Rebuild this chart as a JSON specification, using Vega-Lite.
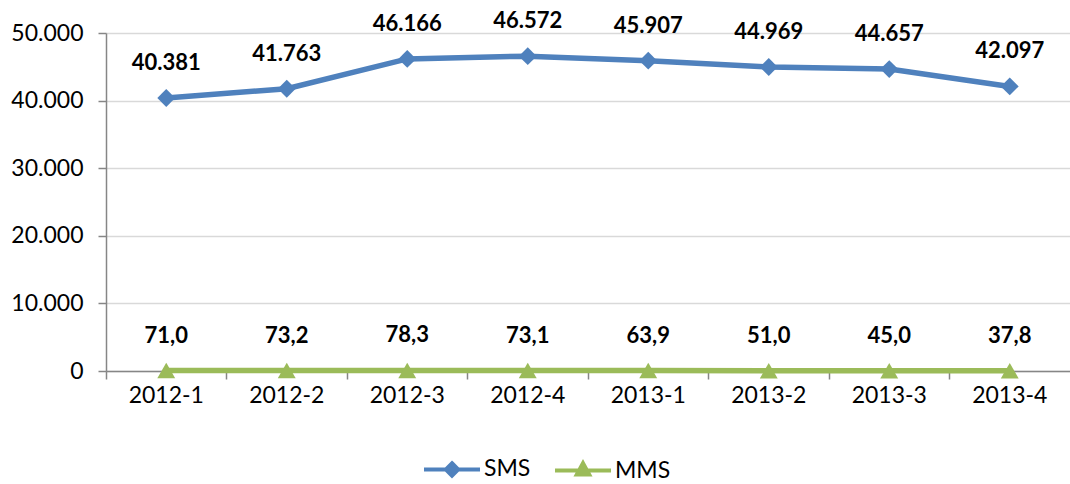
{
  "$schema": "https://vega.github.io/schema/vega-lite/v6.json",
  "width": 964,
  "height": 338,
  "autosize": "none",
  "padding": {"left": 106, "top": 33, "right": 0, "bottom": 113},
  "background": "#ffffff",
  "config": {"font": "Lato", "view": {"stroke": null}},
  "data": {
    "values": [
      {"period": "2012-1", "series": "SMS", "value": 40381, "label": "40.381"},
      {"period": "2012-2", "series": "SMS", "value": 41763, "label": "41.763"},
      {"period": "2012-3", "series": "SMS", "value": 46166, "label": "46.166"},
      {"period": "2012-4", "series": "SMS", "value": 46572, "label": "46.572"},
      {"period": "2013-1", "series": "SMS", "value": 45907, "label": "45.907"},
      {"period": "2013-2", "series": "SMS", "value": 44969, "label": "44.969"},
      {"period": "2013-3", "series": "SMS", "value": 44657, "label": "44.657"},
      {"period": "2013-4", "series": "SMS", "value": 42097, "label": "42.097"},
      {"period": "2012-1", "series": "MMS", "value": 71.0, "label": "71,0"},
      {"period": "2012-2", "series": "MMS", "value": 73.2, "label": "73,2"},
      {"period": "2012-3", "series": "MMS", "value": 78.3, "label": "78,3"},
      {"period": "2012-4", "series": "MMS", "value": 73.1, "label": "73,1"},
      {"period": "2013-1", "series": "MMS", "value": 63.9, "label": "63,9"},
      {"period": "2013-2", "series": "MMS", "value": 51.0, "label": "51,0"},
      {"period": "2013-3", "series": "MMS", "value": 45.0, "label": "45,0"},
      {"period": "2013-4", "series": "MMS", "value": 37.8, "label": "37,8"}
    ]
  },
  "encoding": {
    "x": {
      "field": "period",
      "type": "ordinal",
      "sort": null,
      "bandPosition": 0.5,
      "scale": {"type": "band", "paddingInner": 0, "paddingOuter": 0},
      "axis": {
        "title": null,
        "labelAngle": 0,
        "bandPosition": 0,
        "grid": false,
        "tickSize": 8,
        "tickColor": "#868686",
        "domainColor": "#868686",
        "domainWidth": 1.5,
        "tickWidth": 1.5,
        "labelFontSize": 23,
        "labelColor": "#000000",
        "labelPadding": 5
      }
    },
    "y": {
      "field": "value",
      "type": "quantitative",
      "scale": {"domain": [0, 50000], "nice": false},
      "axis": {
        "title": null,
        "values": [0, 10000, 20000, 30000, 40000, 50000],
        "labelExpr": "replace(format(datum.value, ','), /,/g, '.')",
        "gridColor": "#d9d9d9",
        "gridWidth": 1.5,
        "tickSize": 8,
        "tickColor": "#868686",
        "tickWidth": 1.5,
        "domainColor": "#868686",
        "domainWidth": 1.5,
        "labelFontSize": 23,
        "labelColor": "#000000",
        "labelPadding": 15
      }
    },
    "color": {
      "field": "series",
      "type": "nominal",
      "sort": ["SMS", "MMS"],
      "scale": {"domain": ["SMS", "MMS"], "range": ["#4F81BD", "#9BBB59"]},
      "legend": {
        "title": null,
        "orient": "none",
        "direction": "horizontal",
        "legendX": 316,
        "legendY": 406,
        "labelFontSize": 23,
        "labelColor": "#000000",
        "symbolSize": 3136,
        "symbolType": "M-1,0H1M0,-0.22L0.22,0L0,0.22L-0.22,0Z",
        "symbolStrokeWidth": 4,
        "labelOffset": 2,
        "columnPadding": 16,
        "encode": {
          "symbols": {
            "update": {
              "shape": {"signal": "datum.value === 'SMS' ? 'M-1,0H1M0,-0.22L0.22,0L0,0.22L-0.22,0Z' : 'M-1,0H1M0,-0.26L0.22,0.14L-0.22,0.14Z'"},
              "fill": {"signal": "datum.value === 'SMS' ? '#4F81BD' : '#9BBB59'"},
              "stroke": {"signal": "datum.value === 'SMS' ? '#4F81BD' : '#9BBB59'"},
              "strokeWidth": {"value": 4},
              "opacity": {"value": 1},
              "fillOpacity": {"value": 1}
            }
          }
        }
      }
    }
  },
  "layer": [
    {"mark": {"type": "line", "strokeWidth": 5.5}},
    {
      "mark": {"type": "point", "filled": true, "opacity": 1, "size": 320},
      "encoding": {
        "shape": {"condition": {"test": "datum.series === 'SMS'", "value": "diamond"}, "value": "triangle-up"}
      }
    },
    {
      "mark": {"type": "text", "dy": -35, "fontWeight": "bold", "fontSize": 22, "baseline": "middle"},
      "encoding": {"text": {"field": "label"}, "color": {"value": "#000000"}}
    }
  ]
}
